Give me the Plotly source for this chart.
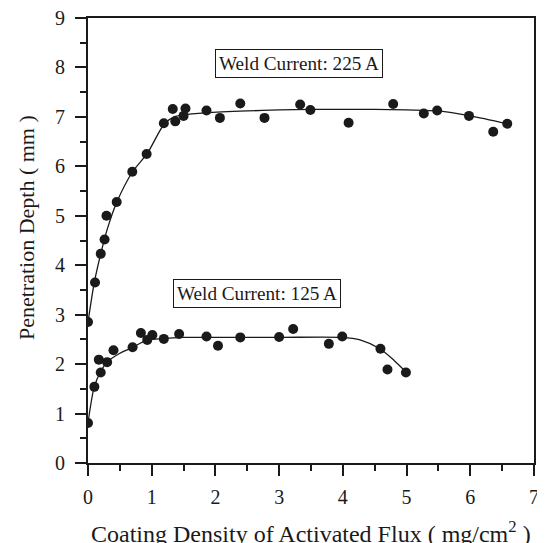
import plotly.graph_objects as go

# ---- data ----
x_225 = [0.0, 0.11, 0.20, 0.26, 0.29, 0.45, 0.695, 0.92, 1.19, 1.33, 1.37, 1.50, 1.53,
         1.86, 2.07, 2.39, 2.77, 3.33, 3.49, 4.09, 4.79, 5.27, 5.48, 5.98, 6.36, 6.58]
y_225 = [2.85, 3.65, 4.23, 4.52, 5.00, 5.28, 5.89, 6.25, 6.87, 7.16, 6.91, 7.02, 7.17,
         7.13, 6.98, 7.27, 6.98, 7.25, 7.14, 6.88, 7.26, 7.07, 7.13, 7.02, 6.70, 6.86]

x_125 = [0.0, 0.10, 0.17, 0.20, 0.30, 0.40, 0.70, 0.83, 0.93, 1.01, 1.19, 1.43, 1.86,
         2.04, 2.39, 3.00, 3.22, 3.78, 3.99, 4.59, 4.70, 4.99]
y_125 = [0.81, 1.54, 2.09, 1.83, 2.04, 2.28, 2.34, 2.63, 2.49, 2.59, 2.51, 2.61, 2.56,
         2.37, 2.54, 2.55, 2.71, 2.41, 2.56, 2.31, 1.89, 1.83]

fit_225_x = [0, 0.1, 0.2, 0.3, 0.45, 0.7, 0.93, 1.2, 1.35, 1.5, 1.85, 2.5, 3.0, 3.5,
             4.0, 4.5, 5.0, 5.3, 5.5, 6.0, 6.58]
fit_225_y = [2.85, 3.66, 4.23, 4.72, 5.27, 5.89, 6.26, 6.86, 7.0, 7.04, 7.08, 7.12, 7.14,
             7.15, 7.15, 7.15, 7.14, 7.13, 7.12, 7.02, 6.86]

fit_125_x = [0, 0.1, 0.2, 0.3, 0.5, 0.7, 0.92, 1.2, 1.5, 2.0, 3.0, 3.98, 4.27, 4.58, 4.8, 5.0]
fit_125_y = [0.81, 1.55, 1.85, 2.04, 2.22, 2.34, 2.48, 2.52, 2.54, 2.54, 2.54, 2.54, 2.49,
             2.31, 2.08, 1.83]

labels = ["Weld Current: 225 A", "Weld Current: 125 A"]
label_x = [3.315, 2.645]
label_y = [8.07, 3.43]

x_title = "Coating Density of Activated Flux ( mg/cm<sup>2</sup> )"
y_title = "Penetration Depth ( mm )"

FONT = "Liberation Serif, Times New Roman, serif"
INK = "#1a1a1a"

fig = go.Figure()
for fx, fy in [(fit_225_x, fit_225_y), (fit_125_x, fit_125_y)]:
    fig.add_trace(go.Scatter(x=fx, y=fy, mode="lines",
                             line=dict(color=INK, width=1.3, shape="spline", smoothing=0.8),
                             showlegend=False, hoverinfo="skip"))
for px, py in [(x_225, y_225), (x_125, y_125)]:
    fig.add_trace(go.Scatter(x=px, y=py, mode="markers",
                             marker=dict(color=INK, size=10, line=dict(width=0)),
                             showlegend=False))

for t, ax_, ay_ in zip(labels, label_x, label_y):
    fig.add_annotation(x=ax_, y=ay_, xref="x", yref="y", text=t, showarrow=False,
                       font=dict(family=FONT, size=19.2, color=INK),
                       bordercolor=INK, borderwidth=1, borderpad=3,
                       bgcolor="white")

fig.add_annotation(x=-0.139, y=0.528, xref="paper", yref="paper", text=y_title,
                   textangle=-90, showarrow=False, xanchor="center", yanchor="middle",
                   font=dict(family=FONT, size=22, color=INK))
fig.add_annotation(x=0.5, y=-0.155, xref="paper", yref="paper", text=x_title,
                   showarrow=False, xanchor="center", yanchor="middle",
                   font=dict(family=FONT, size=24, color=INK))

axis_common = dict(showline=True, linewidth=2, linecolor=INK, mirror=True,
                   ticks="outside", ticklen=11, tickwidth=2, tickcolor=INK,
                   showgrid=False, zeroline=False, automargin=False,
                   ticklabeloverflow="allow",
                   tickfont=dict(family=FONT, size=20, color=INK),
                   minor=dict(ticks="outside", ticklen=6, tickwidth=2, tickcolor=INK,
                              dtick=0.5, showgrid=False))

# the page body adds an 8px offset, so the figure is sized to fill the rest of the window
fig.update_layout(
    width=537, height=535,
    margin=dict(l=80, r=11, t=10, b=80),
    paper_bgcolor="white", plot_bgcolor="white",
    font=dict(family=FONT, color=INK),
    xaxis=dict(range=[0, 7], dtick=1, tick0=0, ticklabelstandoff=4, **axis_common),
    yaxis=dict(range=[0, 9], dtick=1, tick0=0, ticklabelstandoff=6, **axis_common),
)

fig.write_html("out.html")
